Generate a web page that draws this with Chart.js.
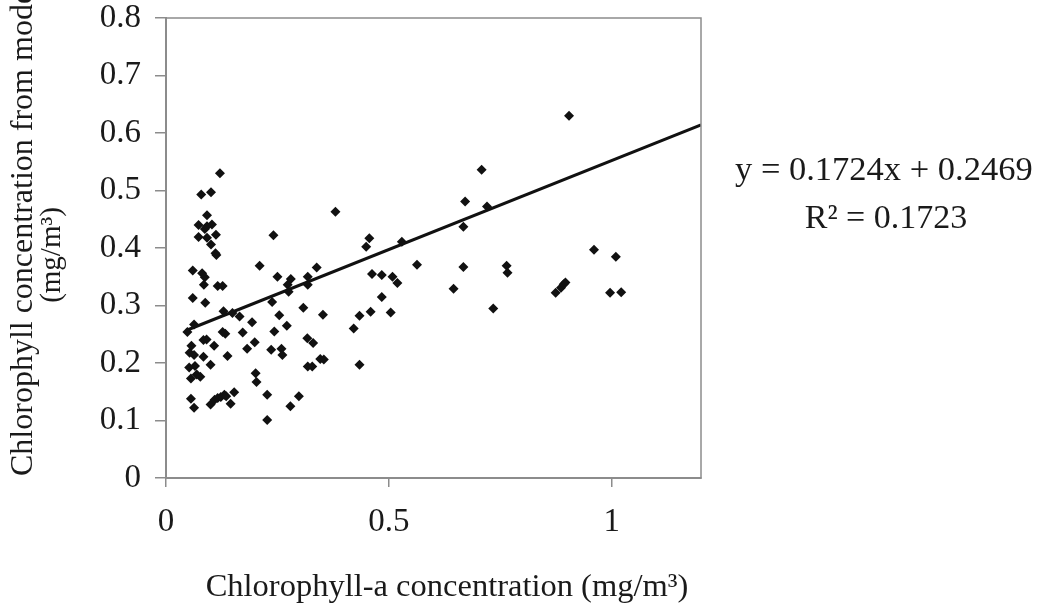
<!DOCTYPE html>
<html><head><meta charset="utf-8">
<script src="https://cdn.jsdelivr.net/npm/chart.js@4.4.1/dist/chart.umd.min.js"></script>
<style>html,body{margin:0;padding:0;background:#fff;overflow:hidden}#wrap{width:1045px;height:610px;position:relative}</style>
</head><body><div id="wrap"><canvas id="c" width="1045" height="610"></canvas></div>
<script>
const xValues = [0.121,0.079,0.101,0.092,0.073,0.087,0.092,0.103,0.073,0.092,0.112,0.101,0.111,0.113,0.060,0.081,0.087,0.085,0.116,0.127,0.060,0.088,0.129,0.149,0.063,0.048,0.127,0.133,0.084,0.091,0.108,0.057,0.053,0.063,0.084,0.138,0.052,0.065,0.100,0.069,0.077,0.056,0.056,0.063,0.100,0.109,0.123,0.131,0.116,0.135,0.153,0.145,0.165,0.172,0.193,0.182,0.199,0.210,0.241,0.250,0.238,0.254,0.243,0.271,0.236,0.259,0.261,0.201,0.203,0.227,0.227,0.279,0.298,0.273,0.280,0.275,0.318,0.318,0.338,0.308,0.352,0.317,0.330,0.318,0.328,0.346,0.354,0.380,0.421,0.434,0.434,0.449,0.456,0.459,0.462,0.484,0.484,0.504,0.508,0.519,0.529,0.563,0.645,0.667,0.667,0.671,0.708,0.720,0.734,0.764,0.766,0.874,0.886,0.892,0.896,0.904,0.960,0.996,1.009,1.021];
const yValues = [0.530,0.493,0.497,0.457,0.440,0.433,0.438,0.441,0.419,0.418,0.423,0.406,0.391,0.388,0.361,0.356,0.349,0.336,0.334,0.334,0.313,0.305,0.290,0.287,0.267,0.254,0.254,0.251,0.240,0.241,0.230,0.230,0.218,0.214,0.211,0.212,0.192,0.195,0.197,0.180,0.176,0.173,0.138,0.122,0.128,0.136,0.141,0.145,0.139,0.142,0.149,0.129,0.281,0.253,0.271,0.225,0.236,0.369,0.422,0.350,0.306,0.283,0.255,0.265,0.223,0.225,0.214,0.182,0.167,0.145,0.101,0.125,0.142,0.336,0.346,0.324,0.350,0.336,0.366,0.296,0.284,0.243,0.235,0.194,0.194,0.207,0.206,0.463,0.260,0.282,0.197,0.402,0.417,0.289,0.355,0.353,0.315,0.288,0.350,0.339,0.411,0.371,0.329,0.437,0.367,0.481,0.536,0.472,0.295,0.369,0.357,0.322,0.331,0.337,0.340,0.630,0.397,0.322,0.385,0.323];
const trendX = [0.045, 1.2];
const trendY = [0.2565, 0.614];
const xTicks = [0, 0.5, 1];
const xTickLabels = ['0', '0.5', '1'];
const yTicks = [0, 0.1, 0.2, 0.3, 0.4, 0.5, 0.6, 0.7, 0.8];
const yTickLabels = ['0', '0.1', '0.2', '0.3', '0.4', '0.5', '0.6', '0.7', '0.8'];
const xTitle = 'Chlorophyll-a concentration (mg/m\u00B3)';
const yTitleLines = ['Chlorophyll concentration from model', '(mg/m\u00B3)'];
const equationLines = ['y = 0.1724x + 0.2469', 'R\u00B2 = 0.1723'];

const FONT = "'Liberation Serif', 'DejaVu Serif', serif";
const AXIS = '#8c8c8c';

const textPlugin = {
  id: 'texts',
  afterDraw(chart) {
    const ctx = chart.ctx, a = chart.chartArea;
    ctx.save();
    ctx.strokeStyle = AXIS; ctx.lineWidth = 1.5;
    ctx.strokeRect(a.left, a.top, a.right - a.left, a.bottom - a.top);
    ctx.fillStyle = '#1a1a1a';
    // x title
    ctx.font = '32.5px ' + FONT;
    ctx.textAlign = 'center'; ctx.textBaseline = 'middle';
    ctx.fillText(xTitle, 447, 587);
    // y title
    ctx.save();
    ctx.translate(24, 476); ctx.rotate(-Math.PI / 2);
    ctx.textAlign = 'left';
    ctx.font = '32px ' + FONT;
    ctx.fillText(yTitleLines[0], 0, 0);
    ctx.restore();
    ctx.save();
    ctx.translate(52, 255); ctx.rotate(-Math.PI / 2);
    ctx.textAlign = 'center';
    ctx.font = '29px ' + FONT;
    ctx.fillText(yTitleLines[1], 0, 0);
    ctx.restore();
    // equation
    ctx.font = '34.5px ' + FONT;
    ctx.textAlign = 'left';
    ctx.fillText(equationLines[0], 735, 171);
    ctx.textAlign = 'center';
    ctx.font = '34px ' + FONT;
    ctx.fillText(equationLines[1], 886, 219);
    ctx.restore();
  }
};

new Chart(document.getElementById('c'), {
  type: 'scatter',
  data: {
    datasets: [
      {
        data: xValues.map((x, i) => ({ x, y: yValues[i] })),
        pointStyle: 'rectRot', pointRadius: 5, pointHoverRadius: 5,
        backgroundColor: '#111', borderColor: '#111', borderWidth: 0
      },
      {
        type: 'line',
        data: trendX.map((x, i) => ({ x, y: trendY[i] })),
        borderColor: '#111', borderWidth: 3, pointRadius: 0, fill: false
      }
    ]
  },
  options: {
    responsive: false, animation: false, devicePixelRatio: 1,
    layout: { padding: { left: 0, right: 1045 - 701, top: 18, bottom: 0 } },
    plugins: { legend: { display: false }, tooltip: { enabled: false } },
    scales: {
      x: {
        type: 'linear', min: 0, max: 1.2,
        afterBuildTicks: s => { s.ticks = xTicks.map(v => ({ value: v })); },
        afterFit: s => { s.height = 610 - 478; s.paddingLeft = 0; s.paddingRight = 0; },
        ticks: { callback: (v, i) => xTickLabels[i], font: { family: FONT, size: 33 }, color: '#1a1a1a', padding: 16, maxRotation: 0 },
        grid: { drawOnChartArea: false, drawTicks: true, tickLength: 9, color: AXIS, lineWidth: 1.5 },
        border: { color: AXIS, width: 2 }
      },
      y: {
        type: 'linear', min: 0, max: 0.8,
        afterBuildTicks: s => { s.ticks = yTicks.map(v => ({ value: v })); },
        afterFit: s => { s.width = 166; s.paddingTop = 0; s.paddingBottom = 0; },
        ticks: { callback: (v, i) => yTickLabels[i], font: { family: FONT, size: 33 }, color: '#1a1a1a', padding: 14 },
        grid: { drawOnChartArea: false, drawTicks: true, tickLength: 11, color: AXIS, lineWidth: 1.5 },
        border: { color: AXIS, width: 2 }
      }
    }
  },
  plugins: [textPlugin]
});
</script>
</body></html>
